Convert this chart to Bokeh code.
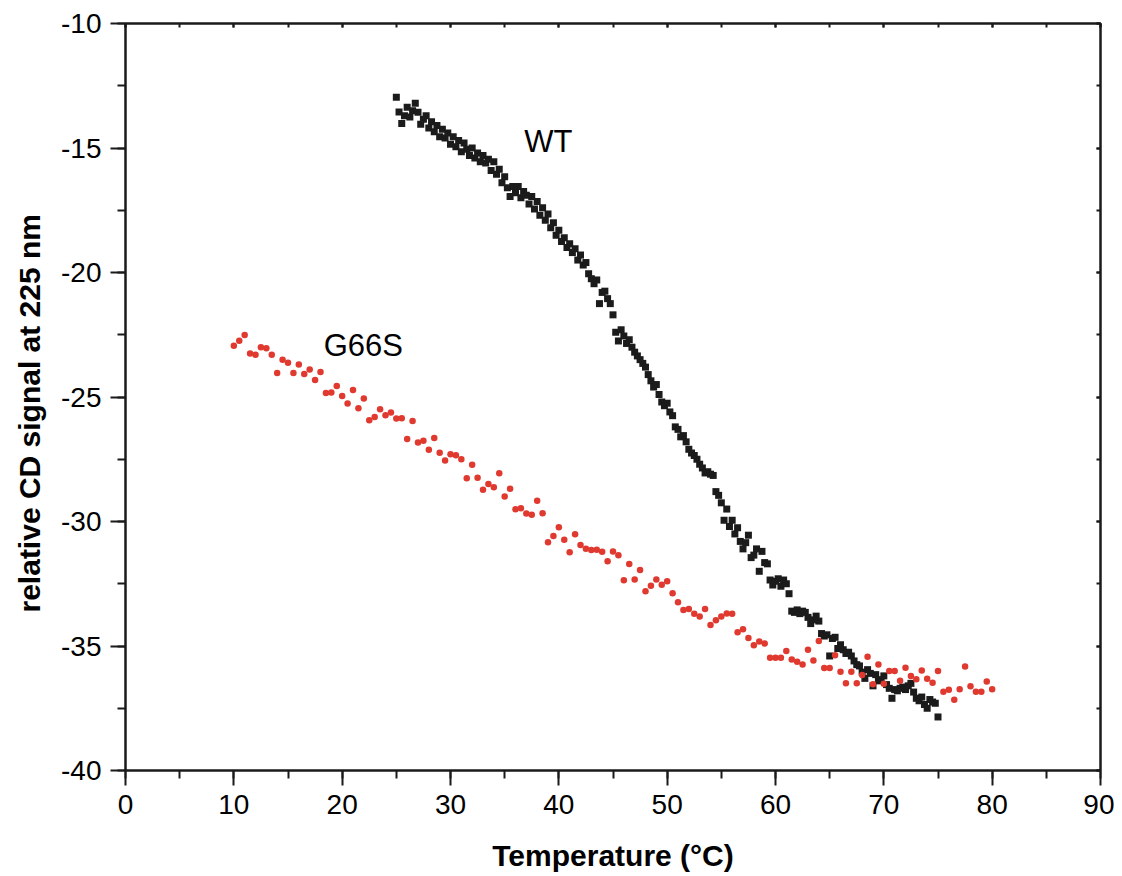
from bokeh.plotting import figure
from bokeh.models import LinearAxis, SingleIntervalTicker, Range1d, Label, Title, CustomJSTickFormatter
from bokeh.embed import file_html
from bokeh.resources import INLINE

# ---- data ----
wt_temp = [
    25.00, 25.25, 25.50, 25.75, 26.00, 26.25, 26.50, 26.75, 27.00, 27.25, 27.50, 27.75,
    28.00, 28.25, 28.50, 28.75, 29.00, 29.25, 29.50, 29.75, 30.00, 30.25, 30.50, 30.75,
    31.00, 31.25, 31.50, 31.75, 32.00, 32.25, 32.50, 32.75, 33.00, 33.25, 33.50, 33.75,
    34.00, 34.25, 34.50, 34.75, 35.00, 35.25, 35.50, 35.75, 36.00, 36.25, 36.50, 36.75,
    37.00, 37.25, 37.50, 37.75, 38.00, 38.25, 38.50, 38.75, 39.00, 39.25, 39.50, 39.75,
    40.00, 40.25, 40.50, 40.75, 41.00, 41.25, 41.50, 41.75, 42.00, 42.25, 42.50, 42.75,
    43.00, 43.25, 43.50, 43.75, 44.00, 44.25, 44.50, 44.75, 45.00, 45.25, 45.50, 45.75,
    46.00, 46.25, 46.50, 46.75, 47.00, 47.25, 47.50, 47.75, 48.00, 48.25, 48.50, 48.75,
    49.00, 49.25, 49.50, 49.75, 50.00, 50.25, 50.50, 50.75, 51.00, 51.25, 51.50, 51.75,
    52.00, 52.25, 52.50, 52.75, 53.00, 53.25, 53.50, 53.75, 54.00, 54.25, 54.50, 54.75,
    55.00, 55.25, 55.50, 55.75, 56.00, 56.25, 56.50, 56.75, 57.00, 57.25, 57.50, 57.75,
    58.00, 58.25, 58.50, 58.75, 59.00, 59.25, 59.50, 59.75, 60.00, 60.25, 60.50, 60.75,
    61.00, 61.25, 61.50, 61.75, 62.00, 62.25, 62.50, 62.75, 63.00, 63.25, 63.50, 63.75,
    64.00, 64.25, 64.50, 64.75, 65.00, 65.25, 65.50, 65.75, 66.00, 66.25, 66.50, 66.75,
    67.00, 67.25, 67.50, 67.75, 68.00, 68.25, 68.50, 68.75, 69.00, 69.25, 69.50, 69.75,
    70.00, 70.25, 70.50, 70.75, 71.00, 71.25, 71.50, 71.75, 72.00, 72.25, 72.50, 72.75,
    73.00, 73.25, 73.50, 73.75, 74.00, 74.25, 74.50, 74.75, 75.00,
]
wt_signal = [
    -12.96, -13.55, -14.02, -13.70, -13.36, -13.75, -13.50, -13.20, -13.56, -14.05, -13.85, -13.70,
    -14.20, -13.95, -14.35, -14.10, -14.55, -14.25, -14.60, -14.40, -14.85, -14.55, -14.95, -14.70,
    -15.15, -14.80, -15.05, -15.30, -15.00, -15.40, -15.20, -15.55, -15.30, -15.60, -15.45, -15.90,
    -15.55, -16.05, -15.85, -16.40, -16.15, -16.60, -16.95, -16.55, -16.80, -16.55, -17.00, -16.75,
    -16.90, -17.25, -16.95, -17.45, -17.15, -17.70, -17.40, -17.90, -17.65, -18.20, -18.00, -18.50,
    -18.30, -18.75, -18.60, -19.00, -18.85, -19.20, -19.05, -19.50, -19.30, -19.70, -19.60, -20.05,
    -20.25, -20.45, -20.30, -21.25, -20.80, -20.75, -21.05, -21.25, -21.70, -22.40, -22.75, -22.30,
    -22.55, -22.85, -22.70, -23.00, -23.20, -23.35, -23.50, -23.65, -23.80, -24.10, -24.35, -24.60,
    -24.50, -24.90, -25.20, -25.35, -25.25, -25.60, -25.75, -26.20, -26.30, -26.60, -26.55, -26.80,
    -27.10, -27.25, -27.35, -27.50, -27.70, -27.85, -28.05, -28.00, -28.10, -28.15, -28.80, -28.95,
    -29.25, -29.95, -29.50, -30.20, -29.95, -30.50, -30.25, -30.80, -31.10, -30.85, -30.55, -31.45,
    -31.35, -31.10, -32.00, -31.20, -31.65, -31.70, -32.35, -32.55, -32.40, -32.30, -32.60, -32.35,
    -32.50, -32.90, -33.60, -33.65, -33.55, -33.70, -33.60, -33.65, -33.85, -34.10, -33.95, -33.80,
    -34.00, -34.50, -34.60, -34.55, -35.40, -34.70, -34.65, -35.10, -34.95, -35.15, -35.30, -35.25,
    -35.40, -35.60, -35.75, -35.80, -36.05, -36.30, -35.95, -36.10, -36.60, -36.15, -36.40, -36.35,
    -36.20, -36.55, -36.70, -37.10, -36.75, -36.80, -36.70, -36.65, -36.75, -36.60, -36.50, -36.85,
    -37.10, -37.20, -37.05, -37.35, -37.50, -37.15, -37.25, -37.30, -37.85,
]

g66s_temp = [
    10.0, 10.5, 11.0, 11.5, 12.0, 12.5, 13.0, 13.5, 14.0, 14.5, 15.0, 15.5, 16.0, 16.5, 17.0, 17.5,
    18.0, 18.5, 19.0, 19.5, 20.0, 20.5, 21.0, 21.5, 22.0, 22.5, 23.0, 23.5, 24.0, 24.5, 25.0, 25.5,
    26.0, 26.5, 27.0, 27.5, 28.0, 28.5, 29.0, 29.5, 30.0, 30.5, 31.0, 31.5, 32.0, 32.5, 33.0, 33.5,
    34.0, 34.5, 35.0, 35.5, 36.0, 36.5, 37.0, 37.5, 38.0, 38.5, 39.0, 39.5, 40.0, 40.5, 41.0, 41.5,
    42.0, 42.5, 43.0, 43.5, 44.0, 44.5, 45.0, 45.5, 46.0, 46.5, 47.0, 47.5, 48.0, 48.5, 49.0, 49.5,
    50.0, 50.5, 51.0, 51.5, 52.0, 52.5, 53.0, 53.5, 54.0, 54.5, 55.0, 55.5, 56.0, 56.5, 57.0, 57.5,
    58.0, 58.5, 59.0, 59.5, 60.0, 60.5, 61.0, 61.5, 62.0, 62.5, 63.0, 63.5, 64.0, 64.5, 65.0, 65.5,
    66.0, 66.5, 67.0, 67.5, 68.0, 68.5, 69.0, 69.5, 70.0, 70.5, 71.0, 71.5, 72.0, 72.5, 73.0, 73.5,
    74.0, 74.5, 75.0, 75.5, 76.0, 76.5, 77.0, 77.5, 78.0, 78.5, 79.0, 79.5, 80.0,
]
g66s_signal = [
    -22.94, -22.74, -22.51, -23.25, -23.30, -23.00, -23.04, -23.30, -24.04, -23.50, -23.62, -24.04,
    -23.69, -24.08, -23.90, -24.32, -24.00, -24.84, -24.82, -24.56, -24.96, -25.26, -24.72, -25.45,
    -25.06, -25.93, -25.80, -25.49, -25.73, -25.62, -25.86, -25.85, -26.69, -25.96, -26.83, -26.76,
    -27.12, -26.65, -27.24, -27.55, -27.30, -27.34, -27.50, -28.26, -27.72, -28.24, -28.72, -28.49,
    -28.62, -28.06, -29.00, -28.68, -29.51, -29.47, -29.68, -29.73, -29.17, -29.67, -30.83, -30.58,
    -30.23, -30.73, -31.23, -30.51, -30.94, -31.09, -31.14, -31.13, -31.21, -31.60, -31.20, -31.36,
    -32.36, -31.71, -32.33, -31.95, -32.80, -32.58, -32.33, -32.54, -32.40, -32.88, -33.24, -33.55,
    -33.51, -33.70, -33.82, -33.51, -34.16, -33.97, -33.82, -33.69, -33.70, -34.45, -34.33, -34.68,
    -34.97, -34.82, -34.90, -35.47, -35.47, -35.47, -35.20, -35.54, -35.63, -35.74, -35.15, -35.58,
    -34.80, -35.88, -35.88, -35.37, -36.03, -36.50, -36.03, -36.50, -36.16, -35.43, -36.54, -35.74,
    -36.52, -36.00, -36.00, -36.40, -35.87, -36.20, -36.34, -35.98, -36.32, -36.48, -36.00, -36.84,
    -36.76, -37.16, -36.74, -35.82, -36.62, -36.84, -36.84, -36.43, -36.74,
]

series_names = ["WT", "G66S"]
x_title = "Temperature (°C)"
y_title = "relative CD signal at 225 nm"

FONT = "Liberation Sans"
AX = "#1a1a1a"

p = figure(
    frame_width=975, frame_height=747,
    x_range=Range1d(0, 90), y_range=Range1d(-40, -10),
    output_backend="svg", toolbar_location=None,
    min_border_left=125, min_border_right=14, min_border_top=23, min_border_bottom=90,
    background_fill_color="white", border_fill_color="white",
)
p.xgrid.visible = False
p.ygrid.visible = False
p.outline_line_color = AX
p.outline_line_width = 2

def style_main(ax, interval):
    ax.ticker = SingleIntervalTicker(interval=interval, num_minor_ticks=2)
    ax.formatter = CustomJSTickFormatter(code="return String(Math.round(tick));")
    ax.axis_line_color = AX
    ax.axis_line_width = 2
    ax.major_tick_line_color = AX
    ax.major_tick_line_width = 2
    ax.minor_tick_line_color = AX
    ax.minor_tick_line_width = 2
    ax.major_tick_out = 15
    ax.major_tick_in = 0
    ax.minor_tick_out = 8
    ax.minor_tick_in = 0
    ax.major_label_text_font = FONT
    ax.major_label_text_font_size = "28px"
    ax.major_label_text_color = "black"
    ax.major_label_standoff = 9
    ax.axis_label_text_font = FONT
    ax.axis_label_text_font_size = "30px"
    ax.axis_label_text_font_style = "bold"
    ax.axis_label_text_color = "black"

style_main(p.xaxis[0], 10)
style_main(p.yaxis[0], 5)
p.xaxis[0].axis_label = x_title
p.xaxis[0].axis_label_standoff = 22

for loc, interval in (("right", 5), ("above", 10)):
    ax = LinearAxis(ticker=SingleIntervalTicker(interval=interval, num_minor_ticks=2))
    ax.axis_line_color = AX
    ax.axis_line_width = 2
    ax.major_tick_line_color = AX
    ax.major_tick_line_width = 2
    ax.minor_tick_line_color = AX
    ax.minor_tick_line_width = 2
    ax.major_tick_in = 4
    ax.major_tick_out = 0
    ax.minor_tick_in = 4
    ax.minor_tick_out = 0
    ax.major_label_text_font_size = "0px"
    ax.major_label_text_alpha = 0
    ax.major_label_standoff = 0
    p.add_layout(ax, loc)

p.scatter(wt_temp, wt_signal, marker="square", size=7, color="#1b1b1b", line_width=0)
p.scatter(g66s_temp, g66s_signal, marker="circle", size=6.5, color="#e0392f", line_width=0)

# y-axis title, placed slightly below the frame centre as in the original
p.add_layout(Title(text=y_title, align="left", offset=158, standoff=22, vertical_align="top",
                   text_font=FONT, text_font_size="30px", text_font_style="bold",
                   text_color="black"), "left")

p.add_layout(Label(x=36.8, y=-14.72, text=series_names[0], text_font=FONT, text_font_size="31px",
                   text_baseline="middle", text_align="left", text_color="black"))
p.add_layout(Label(x=18.3, y=-22.95, text=series_names[1], text_font=FONT, text_font_size="31px",
                   text_baseline="middle", text_align="left", text_color="black"))

open("out.html", "w").write(file_html(p, INLINE))
